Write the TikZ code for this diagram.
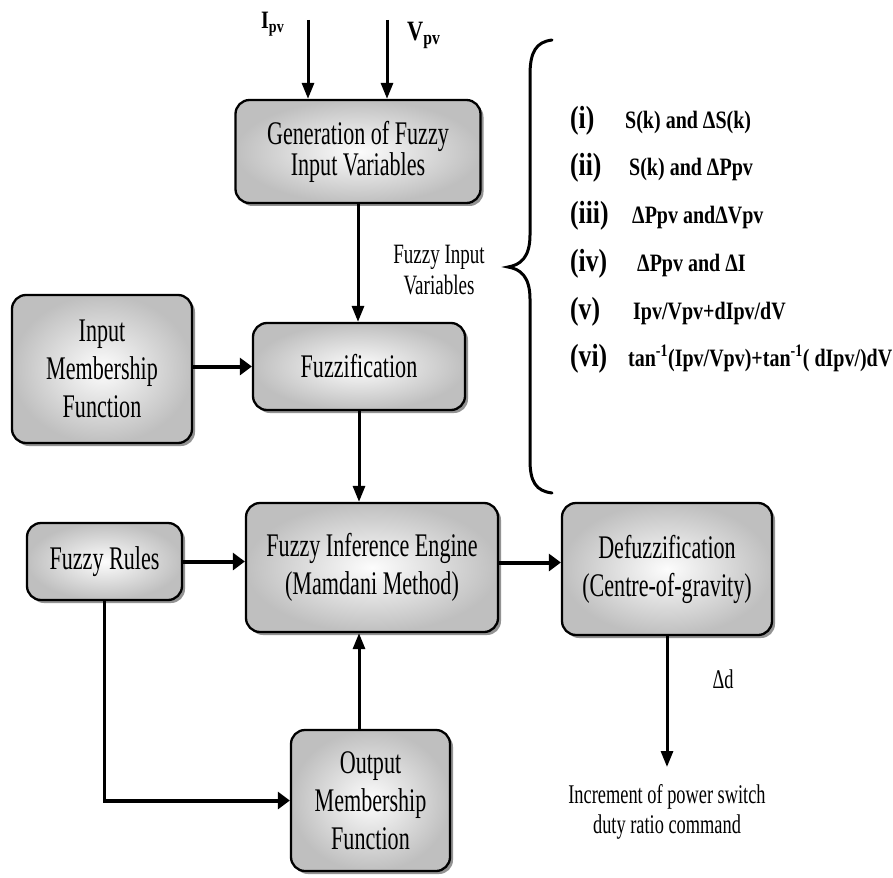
\documentclass[tikz,border=0pt]{standalone}
\usepackage{fontspec}
\setmainfont{Liberation Serif}
\newfontfamily\boxfont[FakeStretch=0.67]{Liberation Serif}
\newfontfamily\lblfont[FakeStretch=0.68]{Liberation Serif}
\newfontfamily\listfont[FakeStretch=0.8]{Liberation Serif}
\usetikzlibrary{arrows.meta,shadows,calc}

\tikzset{
  blk/.style={draw=black, line width=2.3pt, rounded corners=14pt,
    inner color=gray!2, outer color=gray!50,
    drop shadow={shadow xshift=3pt, shadow yshift=-3pt, fill=black!60, opacity=.7},
    align=center, inner sep=0pt, font=\boxfont\fontsize{33}{38}\selectfont},
  varr/.style={line width=3pt, -{Triangle[length=16pt,width=12pt]}},
  harr/.style={line width=4pt, -{Triangle[length=12pt,width=17pt]}},
  vline/.style={line width=3pt},
  lbl/.style={font=\lblfont\fontsize{28}{31}\selectfont, align=center, inner sep=0pt},
  outlbl/.style={font=\lblfont\fontsize{27}{30}\selectfont, align=center, inner sep=0pt},
  sig/.style={inner sep=0pt, anchor=base west},
  num/.style={font=\listfont\bfseries\fontsize{32}{34}\selectfont, anchor=base west, inner sep=0pt},
  itm/.style={font=\listfont\bfseries\fontsize{25}{28}\selectfont, anchor=base west, inner sep=0pt},
  bracepath/.style={line width=3pt, line cap=round},
}

\begin{document}
\begin{tikzpicture}[x=1pt,y=-1pt]
\fill[white] (0,0) rectangle (893,877);
\useasboundingbox (0,0) rectangle (893,877);

% processing blocks
\node[blk, minimum width=245pt, minimum height=103pt, font=\boxfont\fontsize{33}{29}\selectfont] (gen) at (358,151.5) {Generation of Fuzzy\\Input Variables};
\node[blk, minimum width=212pt, minimum height=87pt] (fuzz) at (359,366.5) {Fuzzification};
\node[blk, minimum width=180pt, minimum height=148pt] (imf) at (102,369) {Input\\Membership\\Function};
\node[blk, minimum width=155pt, minimum height=77pt] (rules) at (104.5,561.5) {Fuzzy Rules};
\node[blk, minimum width=252pt, minimum height=129pt] (fie) at (372,567.5) {Fuzzy Inference Engine\\(Mamdani Method)};
\node[blk, minimum width=210pt, minimum height=132pt] (defz) at (667,569) {Defuzzification\\(Centre-of-gravity)};
\node[blk, minimum width=159pt, minimum height=141pt] (omf) at (370.5,800.5) {Output\\Membership\\Function};

% input signals
\coordinate (ipvin) at (308,20);
\coordinate (vpvin) at (387,20);
\node[sig, font=\listfont\bfseries\fontsize{25}{28}\selectfont] (ipvl) at (261,29) {I\textsubscript{pv}};
\node[sig, font=\listfont\bfseries\fontsize{28}{31}\selectfont] (vpvl) at (407,41) {V\textsubscript{pv}};
\draw[varr] (ipvin) -- (ipvin |- gen.north);
\draw[varr] (vpvin) -- (vpvin |- gen.north);

% main flow
\draw[varr] (gen.south) -- (gen.south |- fuzz.north);
\node[lbl] (fiv) at (439,270) {Fuzzy Input\\Variables};
\draw[harr] (imf.east |- fuzz.west) -- (fuzz.west);
\draw[varr] (fuzz.south) -- (fuzz.south |- fie.north);
\draw[harr] (rules.east) -- (rules.east -| fie.west);
\draw[harr] ([yshift=5pt]fie.east) -- ([yshift=5pt]fie.east -| defz.west);
\draw[varr] (omf.north -| fuzz.south) -- (fie.south -| fuzz.south);
\coordinate (bend) at (rules.south |- omf.west);
\draw[vline] (rules.south) -- (bend);
\draw[harr] ([xshift=-1.5pt]bend) -- (omf.west);

% output
\coordinate (dtip) at (667,767);
\draw[varr] (defz.south) -- (dtip);
\node[outlbl, anchor=base] (dd) at (723,688) {Δd};
\node[outlbl] (cmd) at (667,812) {Increment of power switch\\duty ratio command};

% brace and list of input-variable pairs
\draw[bracepath] (552,40) .. controls (536,42) and (530,52) .. (530,75)
  -- (530,235) .. controls (530,258) and (520,265) .. (508,267)
  .. controls (520,269) and (530,276) .. (530,299)
  -- (530,460) .. controls (530,482) and (536,491) .. (552,493);

\node[num] (n1) at (570,129) {(i)};
\node[itm] (t1) at (625,129) {S(k) and ΔS(k)};
\node[num] (n2) at (570,176) {(ii)};
\node[itm] (t2) at (629,176) {S(k) and ΔPpv};
\node[num] (n3) at (570,224) {(iii)};
\node[itm] (t3) at (632,224) {ΔPpv andΔVpv};
\node[num] (n4) at (570,271) {(iv)};
\node[itm] (t4) at (637,271) {ΔPpv and ΔI};
\node[num] (n5) at (570,319) {(v)};
\node[itm] (t5) at (633,319) {Ipv/Vpv+dIpv/dV};
\node[num] (n6) at (570,366) {(vi)};
\node[itm] (t6) at (628,366) {tan\textsuperscript{-1}(Ipv/Vpv)+tan\textsuperscript{-1}( dIpv/)dV};
\end{tikzpicture}
\end{document}
